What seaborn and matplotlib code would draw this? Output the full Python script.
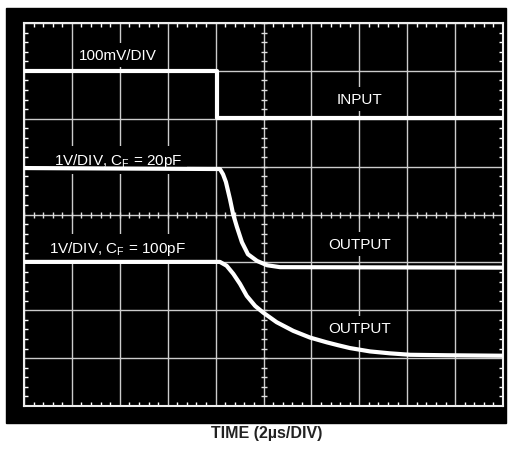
import numpy as np
import matplotlib.pyplot as plt
import seaborn as sns
from matplotlib.patches import Rectangle
from matplotlib.ticker import MultipleLocator

# time in us (2us/div), trace levels in screen divisions (0 = bottom, 8 = top)
input_t = [0.0, 8.05, 8.05, 20.0]
input_v = [6.99, 6.99, 6.02, 6.02]

cf20_t = [0.0, 8.18, 8.31, 8.43, 8.60, 8.73, 8.89, 9.10, 9.35, 9.73, 10.15,
          10.69, 20.0]
cf20_v = [4.97, 4.95, 4.84, 4.68, 4.32, 4.01, 3.74, 3.42, 3.17, 3.03, 2.94,
          2.90, 2.89]

cf100_t = [0.0, 8.18, 8.46, 8.74, 9.02, 9.30, 9.65, 9.99, 10.55, 11.24, 11.94,
           12.64, 13.11, 13.61, 14.45, 15.28, 16.12, 17.65, 20.0]
cf100_v = [3.01, 3.01, 2.93, 2.76, 2.55, 2.30, 2.09, 1.95, 1.75, 1.57, 1.43,
           1.33, 1.27, 1.21, 1.14, 1.10, 1.07, 1.06, 1.05]

sns.set_theme(style="ticks")
plt.rcParams["font.family"] = ["Liberation Sans", "DejaVu Sans"]
plt.rcParams["mathtext.default"] = "regular"

fig = plt.figure(figsize=(5.16, 4.52), dpi=100)
fig.patches.append(Rectangle((6 / 516, 28 / 452), 500 / 516, 415 / 452,
                             transform=fig.transFigure, color="black", zorder=-1))
ax = fig.add_axes([24 / 516, 45 / 452, 479 / 516, 383 / 452])
ax.set_zorder(1)
ax.set_facecolor("black")

for t, v in [(input_t, input_v), (cf20_t, cf20_v), (cf100_t, cf100_v)]:
    sns.lineplot(x=t, y=v, ax=ax, color="white", lw=3.0, sort=False,
                 estimator=None, zorder=5, solid_joinstyle="round")

ax.set_xlim(0, 20)
ax.set_ylim(0, 8)
ax.set_xticks(np.arange(0, 21, 2))
ax.set_yticks(np.arange(0, 9, 1))
ax.xaxis.set_minor_locator(MultipleLocator(0.4))
ax.yaxis.set_minor_locator(MultipleLocator(0.2))
ax.grid(True, which="major", color="#cccccc", lw=1.0, zorder=1)
ax.tick_params(which="both", direction="in", top=True, right=True,
               labelbottom=False, labelleft=False, color="white")
ax.tick_params(which="major", length=0)
ax.tick_params(which="minor", length=3.2, width=1)
for s in ax.spines.values():
    s.set_color("#eeeeee")
    s.set_linewidth(1.5)
ax.set_xlabel("")
ax.set_ylabel("")

# graticule ticks on the centre lines
cx = np.arange(0, 20.01, 0.4)
cy = np.arange(0, 8.01, 0.2)
ax.plot(cx, np.full(cx.size, 4.0), ls="none", marker="|", ms=4.5, mew=1,
        color="#e0e0e0", zorder=2)
ax.plot(np.full(cy.size, 10.0), cy, ls="none", marker="_", ms=4.5, mew=1,
        color="#e0e0e0", zorder=2)

box = dict(facecolor="black", edgecolor="none", pad=3.5)
kw = dict(color="white", fontsize=11, va="baseline", bbox=box, zorder=4)
ax.text(2.28, 7.24, "100mV/DIV", ha="left", **kw)
ax.text(1.25, 5.05, "1V/DIV, C$_\\mathregular{F}$ = 20pF", ha="left", **kw)
ax.text(1.04, 3.21, "1V/DIV, C$_\\mathregular{F}$ = 100pF", ha="left", **kw)
ax.text(14.0, 6.33, "INPUT", ha="center", **kw)
ax.text(14.0, 3.30, "OUTPUT", ha="center", **kw)
ax.text(14.0, 1.545, "OUTPUT", ha="center", **kw)

fig.text(267 / 516, (452 - 434) / 452, "TIME (2µs/DIV)", ha="center",
         va="center", fontsize=11.5, fontweight="bold", color="#222222")

fig.savefig("out.png", dpi=100, facecolor="white")
